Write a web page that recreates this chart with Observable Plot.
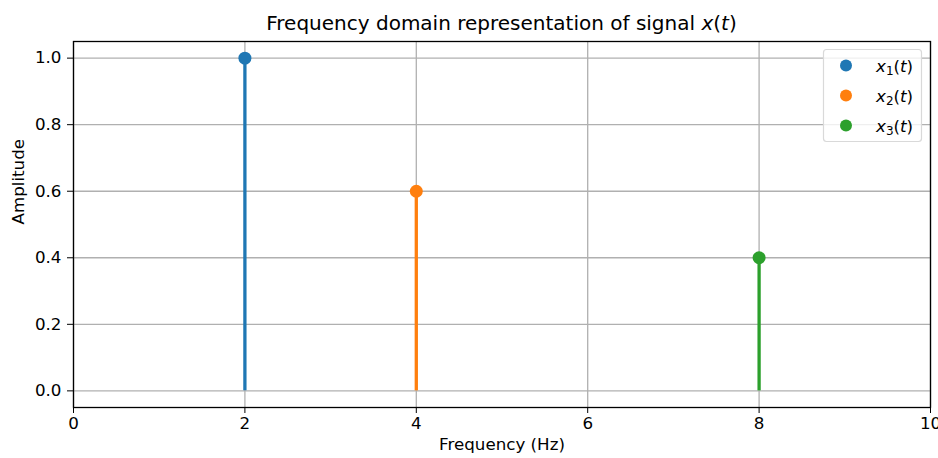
<!DOCTYPE html>
<html>
<head>
<meta charset="utf-8">
<script src="https://cdn.jsdelivr.net/npm/d3@7"></script>
<script src="https://cdn.jsdelivr.net/npm/@observablehq/plot@0.6"></script>
<style>
  html, body { margin: 0; padding: 0; background: #fff; }
  #chart svg { display: block; }
</style>
</head>
<body>
<div id="chart"></div>
<script>
// Spectral lines of x(t): one component per frequency
const frequencies = [2, 4, 8];
const amplitudes = [1.0, 0.6, 0.4];
const seriesIndex = ["1", "2", "3"];
const colors = ["#1f77b4", "#ff7f0e", "#2ca02c"];
const xTicks = [0, 2, 4, 6, 8, 10];
const yTicks = [0, 0.2, 0.4, 0.6, 0.8, 1.0];

const lines = frequencies.map((f, i) => ({f, a: amplitudes[i], k: seriesIndex[i]}));

const W = 938, H = 458;
const font = "DejaVu Sans, sans-serif";
const fs = 16.7;

const plot = Plot.plot({
  width: W,
  height: H,
  marginLeft: 73,
  marginRight: 8,
  marginTop: 41,
  marginBottom: 51,
  style: {fontFamily: font, fontSize: fs + "px", color: "#000", background: "#fff"},
  x: {domain: [0, 10]},
  y: {domain: [-0.05, 1.05]},
  marks: [
    Plot.gridX(xTicks, {stroke: "#b0b0b0", strokeOpacity: 1, strokeWidth: 1.3}),
    Plot.gridY(yTicks, {stroke: "#b0b0b0", strokeOpacity: 1, strokeWidth: 1.3}),
    Plot.axisX(xTicks, {tickSize: 6, tickPadding: 4, label: null, fontSize: fs, tickFormat: d3.format("d")}),
    Plot.axisY(yTicks, {tickSize: 6, tickPadding: 6, label: null, fontSize: fs, tickFormat: d3.format(".1f")}),
    Plot.ruleX(lines, {x: "f", y1: 0, y2: "a", stroke: (d, i) => colors[i], strokeWidth: 3.3}),
    Plot.dot(lines, {x: "f", y: "a", fill: (d, i) => colors[i], r: 6.5, stroke: null}),
    Plot.frame({stroke: "#000", strokeWidth: 1.3}),
    Plot.text(["Frequency (Hz)"], {frameAnchor: "bottom", dy: 42, fontSize: fs}),
    Plot.text(["Amplitude"], {frameAnchor: "left", rotate: -90, dx: -55, fontSize: fs})
  ]
});

document.getElementById("chart").appendChild(plot);

const svg = d3.select(plot);

// Title with math-style x(t)
const title = svg.append("text")
  .attr("x", (73 + W - 8) / 2)
  .attr("y", 30)
  .attr("text-anchor", "middle")
  .attr("font-family", font)
  .attr("font-size", 20)
  .attr("fill", "#000");
title.append("tspan").text("Frequency domain representation of signal ");
title.append("tspan").attr("font-style", "italic").text("x");
title.append("tspan").text("(");
title.append("tspan").attr("font-style", "italic").text("t");
title.append("tspan").text(")");

// Legend
const legend = svg.append("g")
  .attr("font-family", font)
  .attr("font-size", fs)
  .attr("text-anchor", "start");
legend.append("rect")
  .attr("x", 823.5).attr("y", 49.5)
  .attr("width", 98).attr("height", 92)
  .attr("rx", 3).attr("ry", 3)
  .attr("fill", "#fff").attr("fill-opacity", 0.8)
  .attr("stroke", "#d9d9d9").attr("stroke-width", 1.2);
seriesIndex.forEach((k, i) => {
  const cy = 65.5 + i * 30;
  legend.append("circle").attr("cx", 846).attr("cy", cy).attr("r", 6).attr("fill", colors[i]);
  const t = legend.append("text").attr("x", 876).attr("y", cy + 6).attr("fill", "#000");
  t.append("tspan").attr("font-style", "italic").text("x");
  t.append("tspan").attr("font-size", 12).attr("dy", 3).text(k);
  t.append("tspan").attr("dy", -3).text("(");
  t.append("tspan").attr("font-style", "italic").text("t");
  t.append("tspan").text(")");
});
</script>
</body>
</html>
